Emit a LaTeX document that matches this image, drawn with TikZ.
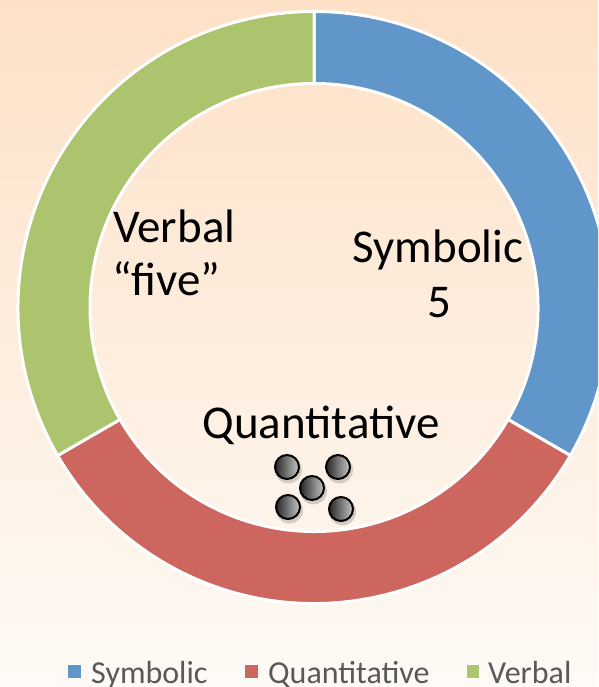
\documentclass[tikz,border=0pt]{standalone}
\usepackage{fontspec}
\setmainfont{Carlito}
\definecolor{bgtop}{RGB}{253,225,199}
\definecolor{bgbot}{RGB}{254,250,245}
\definecolor{symb}{RGB}{96,150,201}
\definecolor{quant}{RGB}{204,102,94}
\definecolor{verb}{RGB}{171,196,109}
\definecolor{leggray}{RGB}{89,89,89}
\begin{document}
\begin{tikzpicture}[x=1pt,y=1pt,
  seg/.style={draw=white,line width=3pt,line join=miter},
  big/.style={font=\fontsize{47}{56}\selectfont,text=black,inner sep=0pt},
  leg/.style={font=\fontsize{32}{36}\selectfont,text=leggray,inner sep=0pt,anchor=base west},
  legsq/.style={draw=white,line width=0.6pt},
  ball/.style={draw=black,line width=2pt,left color=black!85,right color=black!22},
  ballshadow/.style={fill=black,opacity=0.16}]
\useasboundingbox (0,0) rectangle (598,687);
\clip (0,0) rectangle (598,687);
\shade[top color=bgtop,bottom color=bgbot] (0,0) rectangle (598,687);
\coordinate (c) at (314,379.5);
% ring segments
\path[seg,fill=symb] ([shift={(90:296)}]c) arc[start angle=90,end angle=-30,radius=296]
  -- ([shift={(-30:224)}]c) arc[start angle=-30,end angle=90,radius=224] -- cycle;
\path[seg,fill=quant] ([shift={(-30:296)}]c) arc[start angle=-30,end angle=-150,radius=296]
  -- ([shift={(-150:224)}]c) arc[start angle=-150,end angle=-30,radius=224] -- cycle;
\path[seg,fill=verb] ([shift={(210:296)}]c) arc[start angle=210,end angle=90,radius=296]
  -- ([shift={(90:224)}]c) arc[start angle=90,end angle=210,radius=224] -- cycle;
% labels
\node[big,anchor=base west] (verbal) at (113,444) {Verbal};
\node[big,anchor=base west] (five) at (112,391) {“five”};
\node[big,anchor=base] (symbolic) at (438,424) {Symbolic};
\node[big,anchor=base] (sym5) at (439,369) {5};
\node[big,anchor=base] (quantlab) at (321,248) {Quantitative};
% dots
\foreach \n/\x/\y in {d1/287/220,d2/338/220,d3/312/199,d4/288/180,d5/341/178}{
  \fill[ballshadow] (\x+1.5,\y-3) circle (13.5);
  \shade[ball] (\x,\y) circle (12);
  \coordinate (\n) at (\x,\y);
}
% legend
\fill[symb,legsq] (67,9) rectangle (81,23);
\node[leg] (lsym) at (91,3) {Symbolic};
\fill[quant,legsq] (244,9) rectangle (258,23);
\node[leg] (lquant) at (268,3) {Quantitative};
\fill[verb,legsq] (466,9) rectangle (479,23);
\node[leg] (lverb) at (488,3) {Verbal};
\end{tikzpicture}
\end{document}
